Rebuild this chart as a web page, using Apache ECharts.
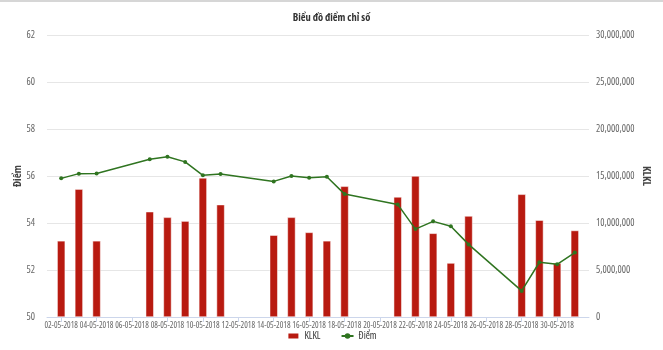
<!DOCTYPE html>
<html>
<head>
<meta charset="utf-8">
<script src="https://cdn.jsdelivr.net/npm/echarts@6/dist/echarts.min.js"></script>
<style>
html,body{margin:0;padding:0;background:#fff;}
#chart{width:663px;height:350px;}
</style>
</head>
<body>
<div id="chart"></div>
<script>
// Trading days of May 2018 (day of month)
var days = [2, 3, 4, 7, 8, 9, 10, 11, 14, 15, 16, 17, 18, 21, 22, 23, 24, 25, 28, 29, 30, 31];
// KLKL (volume, right axis)
var volumes = [8100000, 13600000, 8100000, 11200000, 10600000, 10200000, 14800000, 11950000, 8700000, 10600000, 9000000, 8100000, 13900000, 12770000, 15000000, 8900000, 5740000, 10740000, 13050000, 10300000, 5740000, 9200000];
// Điểm (index points, left axis)
var points = [55.90, 56.10, 56.11, 56.71, 56.82, 56.60, 56.03, 56.09, 55.77, 56.00, 55.93, 55.97, 55.23, 54.79, 53.74, 54.07, 53.86, 53.09, 51.11, 52.33, 52.24, 52.74];
// x tick labels (every second day)
var tickDays = [2, 4, 6, 8, 10, 12, 14, 16, 18, 20, 22, 24, 26, 28, 30];

var FONT = "'Open Sans', 'Roboto Condensed', sans-serif";
var STRETCH = 'condensed';

function pad(d){ return (d < 10 ? '0' : '') + d; }
function fmtDate(d){ return pad(d) + '-05-2018'; }

var barData = days.map(function(d, i){ return [d, volumes[i]]; });
var lineData = days.map(function(d, i){ return [d, points[i]]; });

var chart = echarts.init(document.getElementById('chart'), null, {renderer: 'canvas'});
chart.setOption({
  backgroundColor: '#ffffff',
  animation: false,
  textStyle: {fontFamily: FONT, fontStyle: STRETCH},
  title: {
    text: 'Biểu đồ điểm chỉ số',
    left: 'center',
    top: 8,
    textStyle: {fontFamily: FONT, fontStyle: STRETCH, fontSize: 10.5, fontWeight: 'bold', color: '#333333'}
  },
  graphic: [{
    type: 'rect',
    shape: {x: 0, y: 0, width: 663, height: 2},
    style: {fill: '#d6d6d6'},
    silent: true
  }],
  legend: {
    bottom: 4,
    left: 'center',
    itemWidth: 12,
    itemHeight: 7,
    itemGap: 20,
    textStyle: {fontFamily: FONT, fontStyle: STRETCH, fontSize: 10, color: '#333333'},
    data: [{name: 'KLKL', icon: 'rect'}, {name: 'Điểm'}]
  },
  grid: {left: 47, right: 74, top: 35, bottom: 33, containLabel: false, outerBoundsMode: 'none'},
  xAxis: {
    type: 'value',
    min: 1.2,
    max: 31.8,
    splitLine: {show: false},
    axisLine: {show: true, lineStyle: {color: '#ccd6eb'}},
    axisTick: {show: true, customValues: tickDays, length: 5, lineStyle: {color: '#ccd6eb'}},
    axisLabel: {
      customValues: tickDays,
      showMinLabel: true,
      showMaxLabel: true,
      formatter: function(v){ return fmtDate(Math.round(v)); },
      fontFamily: FONT, fontStyle: STRETCH, fontSize: 8.5, color: '#666666', margin: 4
    }
  },
  yAxis: [{
    type: 'value',
    min: 50, max: 62, interval: 2,
    name: 'Điểm',
    nameLocation: 'middle',
    nameGap: 24,
    nameMoveOverlap: false,
    nameRotate: 90,
    nameTextStyle: {fontFamily: FONT, fontStyle: STRETCH, fontSize: 11, fontWeight: 'bold', color: '#444444'},
    axisLine: {show: false},
    axisTick: {show: false},
    splitLine: {lineStyle: {color: '#e6e6e6'}},
    axisLabel: {fontFamily: FONT, fontStyle: STRETCH, fontSize: 10, color: '#666666', margin: 12}
  }, {
    type: 'value',
    min: 0, max: 30000000, interval: 5000000,
    name: 'KLKL',
    nameLocation: 'middle',
    nameGap: 52,
    nameMoveOverlap: false,
    nameRotate: -90,
    nameTextStyle: {fontFamily: FONT, fontStyle: STRETCH, fontSize: 11, fontWeight: 'bold', color: '#444444'},
    axisLine: {show: false},
    axisTick: {show: false},
    splitLine: {show: false},
    axisLabel: {
      fontFamily: FONT, fontStyle: STRETCH, fontSize: 10, color: '#666666', margin: 7,
      formatter: function(v){ return v.toString().replace(/\B(?=(\d{3})+(?!\d))/g, ','); }
    }
  }],
  series: [{
    name: 'KLKL',
    type: 'bar',
    yAxisIndex: 1,
    barWidth: 8,
    itemStyle: {color: '#b81a10', borderColor: '#ffffff', borderWidth: 0.5},
    data: barData
  }, {
    name: 'Điểm',
    type: 'line',
    yAxisIndex: 0,
    symbol: 'circle',
    symbolSize: 4,
    itemStyle: {color: '#2f7420'},
    lineStyle: {color: '#2f7420', width: 1.5},
    data: lineData
  }]
});
</script>
</body>
</html>
